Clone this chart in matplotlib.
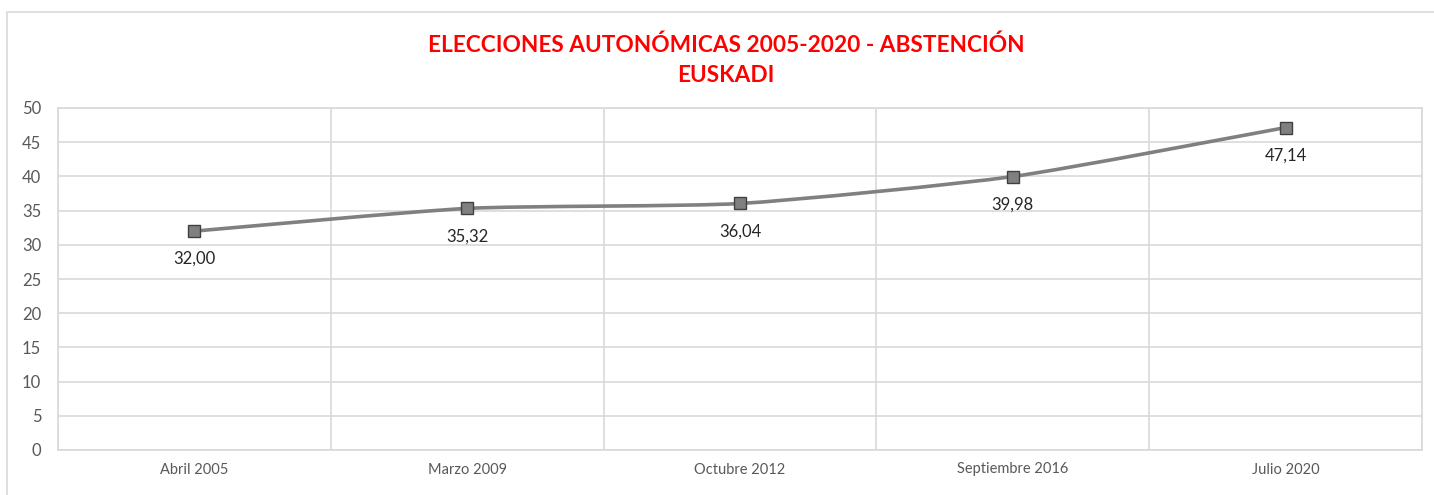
import numpy as np
import matplotlib
matplotlib.use('Agg')
import matplotlib.pyplot as plt
from matplotlib.path import Path
from matplotlib.patches import PathPatch, Rectangle

categories = ['Abril 2005', 'Marzo 2009', 'Octubre 2012', 'Septiembre 2016', 'Julio 2020']
abstencion = [32.00, 35.32, 36.04, 39.98, 47.14]
y_ticks = [0, 5, 10, 15, 20, 25, 30, 35, 40, 45, 50]
title = 'ELECCIONES AUTONÓMICAS 2005-2020 - ABSTENCIÓN\nEUSKADI'

plt.rcParams['font.family'] = ['Lato', 'DejaVu Sans']

fig = plt.figure(figsize=(14.34, 4.95), dpi=100)
fig.patches.append(Rectangle((7 / 1434, -0.05), 1.0, 1 - 12 / 495 + 0.05,
                             transform=fig.transFigure, fill=False,
                             edgecolor='#d9d9d9', linewidth=1.2))
ax = fig.add_axes([58 / 1434, 1 - 450 / 495, (1422 - 58) / 1434, (450 - 108) / 495])

x = np.arange(len(categories))
y = np.array(abstencion)

# smoothed line (catmull-rom -> bezier, low tension like excel)
pts = np.column_stack([x, y]).astype(float)
verts = [pts[0]]
codes = [Path.MOVETO]
for i in range(len(pts) - 1):
    p0 = pts[i - 1] if i > 0 else pts[i]
    p1 = pts[i]
    p2 = pts[i + 1]
    p3 = pts[i + 2] if i + 2 < len(pts) else pts[i + 1]
    c1 = p1 + (p2 - p0) / 10
    c2 = p2 - (p3 - p1) / 10
    verts += [c1, c2, p2]
    codes += [Path.CURVE4] * 3
ax.add_patch(PathPatch(Path(verts, codes), facecolor='none', edgecolor='#808080',
                       linewidth=2.6, zorder=3, capstyle='round'))
ax.plot(x, y, linestyle='none', marker='s', markersize=9, markerfacecolor='#808080',
        markeredgecolor='#404040', markeredgewidth=1.0, zorder=4)

for xi, yi in zip(x, y):
    ax.annotate(f'{yi:.2f}'.replace('.', ','), (xi, yi), xytext=(0, -28),
                textcoords='offset pixels',
                ha='center', va='center', fontsize=12, color='#262626')

ax.set_xlim(-0.5, len(categories) - 0.5)
ax.set_ylim(0, 50)
ax.set_yticks(y_ticks)
ax.set_xticks(x)
ax.set_xticklabels(categories)
ax.set_xticks(np.arange(len(categories) + 1) - 0.5, minor=True)
ax.grid(axis='y', which='major', color='#d9d9d9', linewidth=1.2)
ax.grid(axis='x', which='minor', color='#d9d9d9', linewidth=1.2)
ax.set_axisbelow(True)
ax.tick_params(which='both', length=0)
ax.tick_params(axis='y', labelsize=12, labelcolor='#595959', pad=12)
ax.tick_params(axis='x', labelsize=10.5, labelcolor='#595959', pad=9)
for s in ax.spines.values():
    s.set_color('#d9d9d9')
    s.set_linewidth(1.2)

fig.text(726 / 1434, 1 - 60 / 495, title, ha='center', va='center', fontsize=16.3,
         fontweight='bold', color='#ff0000', linespacing=1.55)

fig.savefig('out.png', dpi=100, facecolor='white')
